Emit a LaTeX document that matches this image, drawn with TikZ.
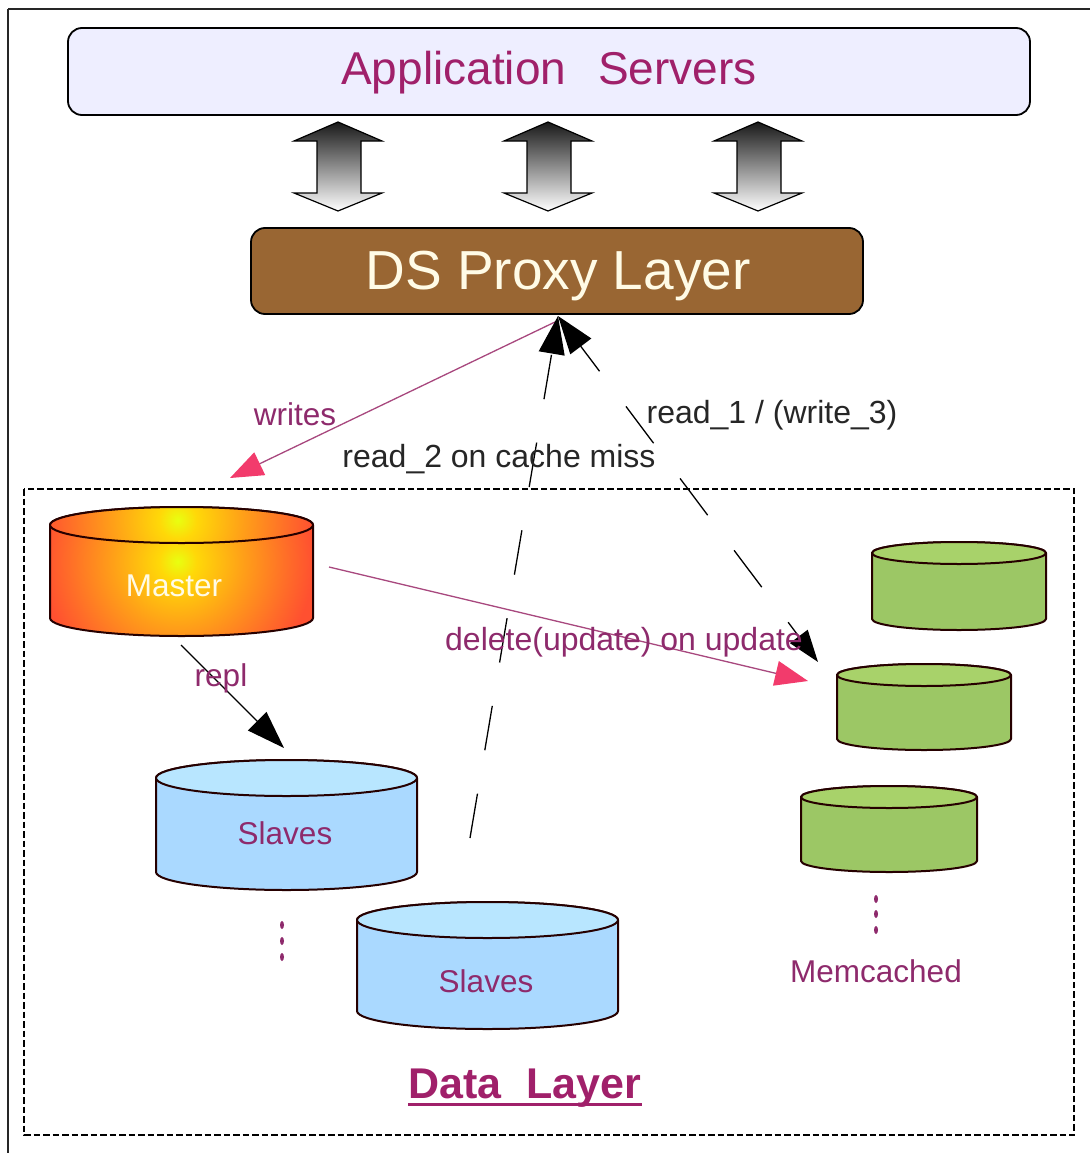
\documentclass[tikz,border=0pt]{standalone}
\usepackage{fontspec}
\setmainfont{Liberation Sans}
\usetikzlibrary{arrows.meta}
\definecolor{lbl}{HTML}{A0206A}
\definecolor{plum}{HTML}{8E2A6C}
\definecolor{pinkarrow}{HTML}{F23B6C}
\definecolor{writeline}{HTML}{A8487E}
\definecolor{brownbox}{HTML}{996633}
\definecolor{appfill}{HTML}{EEEEFF}
\definecolor{cyltopblue}{HTML}{B8E6FF}
\definecolor{cylblue}{HTML}{AAD9FF}
\definecolor{cyltopgreen}{HTML}{A8D26A}
\definecolor{cylgreen}{HTML}{9CC765}
\definecolor{cream}{HTML}{FFFBE6}
\definecolor{mc0}{HTML}{E8FF10}
\definecolor{mc1}{HTML}{FFD808}
\definecolor{mc2}{HTML}{FFA018}
\definecolor{mc3}{HTML}{FF6E28}
\definecolor{mc4}{HTML}{FF5030}
\pgfdeclareradialshading{masterrad}{\pgfpoint{0bp}{0bp}}{color(0bp)=(mc0);color(3.5bp)=(mc1);color(12bp)=(mc2);color(20bp)=(mc3);color(25bp)=(mc4);color(50bp)=(mc4)}
\tikzset{
  cap0/.style={draw=black!85!red,line width=2pt,line join=round},
  lab/.style={font=\fontsize{31.5}{34}\selectfont,text=plum,inner sep=0pt},
  blab/.style={font=\fontsize{32}{34}\selectfont,text=black!85,inner sep=0pt},
  dashline/.style={line width=1.3pt,draw=black,dash pattern=on 45pt off 44pt},
  dashlineb/.style={line width=1.3pt,draw=black,dash pattern=on 46pt off 44pt,dash phase=28pt},
  blk/.style={-{Triangle[length=38pt,width=26pt,fill=black]},line width=1.3pt,draw=black},
  blkboth/.style={{Triangle[length=32pt,width=22pt,fill=black]}-{Triangle[length=38pt,width=26pt,fill=black]},line width=1.3pt,draw=black},
  pnk/.style={-{Triangle[length=33pt,width=25pt,color=pinkarrow,fill=pinkarrow]},line width=1.3pt,draw=writeline},
  bigarrow/.style={top color=black!90,bottom color=white,draw=black,line width=1.2pt,line join=miter}
}
% #1 name, #2 x1, #3 x2, #4 top, #5 bottom, #6 ry, #7 body opts, #8 top opts
\newcommand{\cylindershape}[8]{%
  \path[#7] (#2,#4+#6) -- (#2,#5-#6) arc[start angle=180,end angle=0,x radius={(#3-#2)/2},y radius=#6] -- (#3,#4+#6) arc[start angle=0,end angle=-180,x radius={(#3-#2)/2},y radius=#6] -- cycle;
  \path[#8] ({(#2+#3)/2},#4+#6) ellipse[x radius={(#3-#2)/2},y radius=#6];
  \coordinate (#1) at ({(#2+#3)/2},{(#4+#5)/2});
}
\newcommand{\dblarrow}[1]{%
  \path[bigarrow] (#1,122) -- (#1+44,141) -- (#1+23,141) -- (#1+23,193) -- (#1+44,193) -- (#1,211) -- (#1-44,193) -- (#1-21,193) -- (#1-21,141) -- (#1-44,141) -- cycle;
}
\begin{document}
\begin{tikzpicture}[x=1pt,y=-1pt]
\useasboundingbox (0,0) rectangle (1090,1153);
\path[fill=white] (0,0) rectangle (1090,1153);
\draw[line width=1.8pt,black!85] (8,9) -- (1090,9) (8,9) -- (8,1153);
\draw[line width=1.4pt,dash pattern=on 6.5pt off 3pt] (24,489) rectangle (1074,1135);
% top boxes
\draw[fill=appfill,line width=1.8pt,rounded corners=14pt] (68,28) rectangle (1030,115);
\node[font=\fontsize{46}{50}\selectfont,text=lbl,inner sep=0pt] (app) at (549,73) {Application\hspace{0.42em} Servers};
\draw[fill=brownbox,line width=1.8pt,rounded corners=14pt] (251,228) rectangle (863,314);
\node[font=\fontsize{55}{58}\selectfont,text=cream,inner sep=0pt] (proxy) at (558,276) {DS Proxy Layer};
\dblarrow{338}\dblarrow{548}\dblarrow{758}
\coordinate (proxyb) at (558,316);
% cylinders
\cylindershape{master}{50}{313}{507}{636}{18}
  {cap0,path picture={\shade[shading=masterrad] ([shift={(-139,-145)}]path picture bounding box.center) rectangle ++(270,270);}}
  {cap0,path picture={\shade[shading=masterrad] ([shift={(-139,-140)}]path picture bounding box.center) rectangle ++(270,270);}}
\cylindershape{slaveA}{156}{417}{760}{890}{18}{cap0,fill=cylblue}{cap0,fill=cyltopblue}
\cylindershape{slaveB}{357}{618}{902}{1029}{18}{cap0,fill=cylblue}{cap0,fill=cyltopblue}
\cylindershape{memA}{872}{1046}{542}{630}{11}{cap0,fill=cylgreen}{cap0,fill=cyltopgreen}
\cylindershape{memB}{837}{1011}{664}{750}{11}{cap0,fill=cylgreen}{cap0,fill=cyltopgreen}
\cylindershape{memC}{801}{977}{786}{872}{11}{cap0,fill=cylgreen}{cap0,fill=cyltopgreen}
\node[font=\fontsize{31.5}{34}\selectfont,text=cream,inner sep=0pt] (mlab) at (174,586) {Master};
\node[lab] (s1) at (285,833) {Slaves};
\node[lab] (s2) at (486,981) {Slaves};
\node[lab] (mc) at (876,971) {Memcached};
\node[font=\bfseries\fontsize{43}{46}\selectfont,text=lbl,inner sep=0pt] (dl) at (525,1088) {Data\hspace{0.3em} Layer};
\draw[line width=3pt,lbl] ([yshift=-6pt]dl.base west) -- ([yshift=-6pt]dl.base east);
\foreach \y in {925,941,957} \fill[plum] (282,\y) ellipse[x radius=2,y radius=4];
\foreach \y in {899,914,930} \fill[plum] (876,\y) ellipse[x radius=2,y radius=4];
% connectors
\coordinate (wstart) at (555,322);
\coordinate (wend) at (230,478);
\draw[pnk] (wstart) -- (wend);
\coordinate (rd2s) at (470,838);
\coordinate (rd1e) at (818,662);
\draw[blk,dashline] (rd2s) -- (proxyb);
\draw[blkboth,dashlineb] (rd1e) -- (proxyb);
\coordinate (upds) at (329,567);
\coordinate (upde) at (808,681);
\draw[pnk] (upds) -- (upde);
\coordinate (rpls) at (181,645);
\coordinate (rple) at (284,748);
\draw[blk] (rpls) -- (rple);
% labels
\node[lab] (writes) at (295,414) {writes};
\node[blab] (r2) at (499,459) {read\_2 on cache miss};
\node[blab] (r1) at (772,415) {read\_1 / (write\_3)};
\node[lab,font=\fontsize{32}{34}\selectfont] (del) at (624,642) {delete(update) on update};
\node[lab] (repl) at (221,678) {repl};
\end{tikzpicture}
\end{document}
